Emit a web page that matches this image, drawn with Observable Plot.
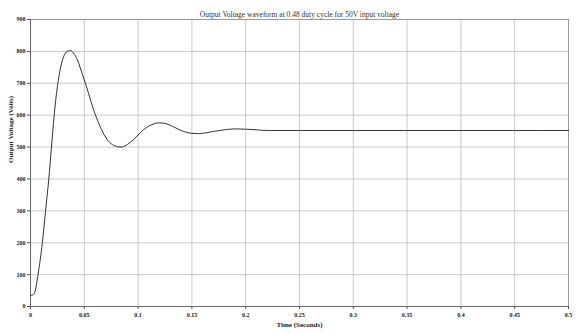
<!DOCTYPE html>
<html>
<head>
<meta charset="utf-8">
<script src="https://cdn.jsdelivr.net/npm/d3@7"></script>
<script src="https://cdn.jsdelivr.net/npm/@observablehq/plot@0.6"></script>
<style>
  html, body { margin: 0; padding: 0; background: #fff; }
  #chart svg { display: block; }
</style>
</head>
<body>
<div id="chart"></div>
<script>
const title = "Output Voltage waveform at 0.48 duty cycle for 50V input voltage";
const xLabel = "Time (Seconds)";
const yLabel = "Output Voltage (Volts)";

const xTicks = [0, 0.05, 0.1, 0.15, 0.2, 0.25, 0.3, 0.35, 0.4, 0.45, 0.5];
const yTicks = [0, 100, 200, 300, 400, 500, 600, 700, 800, 900];

const time = [0, 0.002, 0.004, 0.007, 0.011, 0.014, 0.017, 0.0195, 0.022, 0.025, 0.028, 0.031, 0.034, 0.037, 0.040, 0.044, 0.048, 0.052, 0.056, 0.061, 0.066, 0.071, 0.076, 0.081, 0.085, 0.090, 0.096, 0.102, 0.108, 0.114, 0.120, 0.126, 0.132, 0.138, 0.144, 0.150, 0.156, 0.162, 0.170, 0.180, 0.190, 0.200, 0.210, 0.220, 0.230, 0.250, 0.300, 0.350, 0.400, 0.450, 0.500];
const voltage = [35, 36, 45, 100, 200, 300, 400, 500, 600, 690, 750, 785, 800, 802, 795, 770, 730, 690, 645, 595, 555, 525, 508, 501, 500, 508, 524, 545, 562, 572, 576, 573, 565, 555, 547, 543, 542, 544, 549, 554, 557, 556, 554, 552, 552, 552, 552, 552, 552, 552, 552];

const data = time.map((t, i) => ({t, v: voltage[i]}));
const fmt = d => String(+d.toFixed(2));

const plot = Plot.plot({
  width: 577,
  height: 334,
  marginLeft: 30,
  marginRight: 9,
  marginTop: 19,
  marginBottom: 28,
  style: {fontFamily: "'Liberation Serif', 'DejaVu Serif', serif", fontSize: "6px", color: "#222", background: "#fff"},
  x: {domain: [0, 0.5], ticks: xTicks, tickFormat: fmt, label: null, tickSize: 3},
  y: {domain: [0, 900], ticks: yTicks, label: null, tickSize: 3},
  marks: [
    Plot.gridX(xTicks, {stroke: "#bbb", strokeOpacity: 1, strokeWidth: 0.8}),
    Plot.gridY(yTicks, {stroke: "#bbb", strokeOpacity: 1, strokeWidth: 0.8}),
    Plot.frame({stroke: "#999", strokeWidth: 1}),
    Plot.axisX({ticks: xTicks, tickFormat: fmt, tickSize: 3, tickPadding: 3, fontWeight: "bold", stroke: "#555"}),
    Plot.axisY({ticks: yTicks, tickSize: 3, tickPadding: 2, fontWeight: "bold", stroke: "#555"}),
    Plot.ruleY([0], {stroke: "#666", strokeWidth: 1}),
    Plot.ruleX([0], {stroke: "#666", strokeWidth: 1}),
    Plot.line(data, {x: "t", y: "v", curve: "monotone-x", stroke: "#333", strokeWidth: 1}),
    Plot.text([title], {frameAnchor: "top", dy: -8, fontSize: 7.5, fill: "#333"}),
    Plot.text([xLabel], {frameAnchor: "bottom", dy: 20, fontSize: 7, fontWeight: "bold", fill: "#222"}),
    Plot.text([yLabel], {frameAnchor: "left", dx: -20, rotate: -90, fontSize: 7, fontWeight: "bold", fill: "#222"})
  ]
});
document.getElementById("chart").appendChild(plot);
</script>
</body>
</html>
